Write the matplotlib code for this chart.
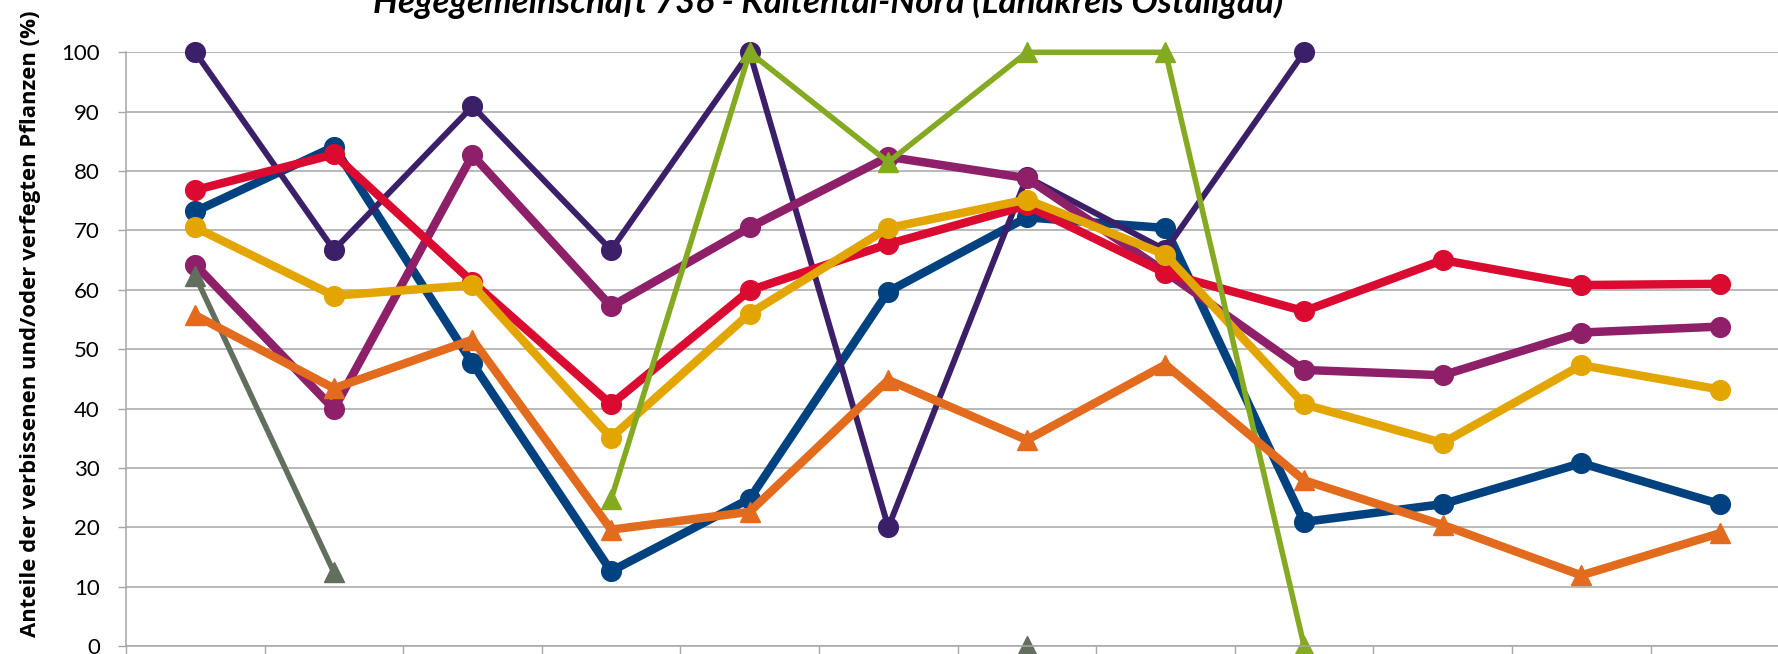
import numpy as np
import matplotlib
matplotlib.use("Agg")
import matplotlib.pyplot as plt
from matplotlib import font_manager

nan = np.nan

# ---- data -------------------------------------------------------------
n_cat = 12
title = "Hegegemeinschaft 736 - Kaltental-Nord (Landkreis Ostallgäu)"
ylabel = "Anteile der verbissenen und/oder verfegten Pflanzen (%)"
yticks = [0, 10, 20, 30, 40, 50, 60, 70, 80, 90, 100]

s_blue    = [73.2, 84.1, 47.6, 12.6, 24.8, 59.7, 72.2, 70.4, 20.9, 23.9, 30.8, 23.9]
s_purple  = [100, 66.7, 90.9, 66.7, 100, 20.0, 79.0, 66.7, 100, nan, nan, nan]
s_magenta = [64.2, 39.9, 82.7, 57.2, 70.5, 82.4, 78.8, 63.0, 46.5, 45.6, 52.8, 53.8]
s_red     = [76.8, 82.8, 61.3, 40.7, 59.9, 67.7, 74.2, 62.8, 56.4, 65.0, 60.8, 61.0]
s_yellow  = [70.5, 59.0, 60.8, 35.1, 56.0, 70.4, 75.2, 65.9, 40.7, 34.2, 47.3, 43.2]
s_green   = [nan, nan, nan, 24.7, 100, 81.5, 100, 100, 0, nan, nan, nan]
s_gray    = [62.3, 12.4, nan, nan, nan, nan, 0, nan, nan, nan, nan, nan]
s_orange  = [55.7, 43.4, 51.6, 19.6, 22.6, 44.8, 34.7, 47.4, 27.9, 20.4, 11.9, 19.0]

# ---- fonts -------------------------------------------------------------
def pick(cands):
    for c in cands:
        try:
            font_manager.findfont(font_manager.FontProperties(family=c),
                                  fallback_to_default=False)
            return c
        except Exception:
            pass
    return "DejaVu Sans"

f_title = pick(["Lato", "Open Sans", "DejaVu Sans"])
f_tick = pick(["Lato", "Liberation Sans", "DejaVu Sans"])
f_label = pick(["Open Sans", "Noto Sans", "DejaVu Sans"])

W, H = 1778, 654
DPI = 100
fig = plt.figure(figsize=(W / DPI, H / DPI), dpi=DPI)
fig.patch.set_facecolor("white")

# axes geometry in pixels
x0, cat_w = 126.0, 138.6
y0, y100 = 646.0, 52.3
ax = fig.add_axes([x0 / W, (H - y0) / H, n_cat * cat_w / W, (y0 - y100) / H])
ax.set_facecolor("none")

grid_c = "#A6A6A6"
ax.set_xlim(0, n_cat)
ax.set_ylim(0, 100)
ax.set_yticks(yticks)
ax.set_yticklabels([str(v) for v in yticks], fontsize=16, family=f_tick, color="black")
ax.set_xticks(np.arange(n_cat + 1))
ax.set_xticklabels([])
ax.tick_params(axis="y", direction="out", length=5.8, width=1.0, color=grid_c, pad=13)
ax.tick_params(axis="x", direction="out", length=5.8, width=1.0, color=grid_c)
ax.yaxis.grid(True, color=grid_c, lw=1.1)
ax.set_axisbelow(True)
for s in ["top", "right"]:
    ax.spines[s].set_visible(False)
for s in ["left", "bottom"]:
    ax.spines[s].set_color(grid_c)
    ax.spines[s].set_linewidth(1.1)

xc = np.arange(n_cat) + 0.5

series = [
    (s_blue,    "#00427F", "o", 6.1, 14.2),
    (s_purple,  "#3C1F69", "o", 4.3, 14.2),
    (s_magenta, "#8E1F69", "o", 6.1, 14.2),
    (s_red,     "#DA0A31", "o", 6.1, 14.2),
    (s_yellow,  "#E3A500", "o", 6.1, 14.2),
    (s_green,   "#84AA22", "^", 4.0, 14.5),
    (s_gray,    "#626F5E", "^", 4.0, 14.5),
    (s_orange,  "#E36B1E", "^", 6.1, 14.5),
]
for vals, col, mk, lw, ms in series:
    ax.plot(xc, vals, color=col, lw=lw, marker=mk, ms=ms, mfc=col, mec=col,
            solid_joinstyle="round", clip_on=False)

# ---- texts -------------------------------------------------------------
fig.canvas.draw()
r = fig.canvas.get_renderer()

t = fig.text(828 / W, 1 - 13.3 / H, title, ha="center", va="baseline",
             fontsize=20, fontweight="bold", fontstyle="italic", family=f_title)
wpx = t.get_window_extent(r).width
t.set_fontsize(20 * 910.0 / wpx)

yl = fig.text(30.3 / W, (H - 637) / H, ylabel, rotation=90, ha="center", va="bottom",
              fontsize=14.8, fontweight="bold", family=f_label)
hpx = yl.get_window_extent(r).height
yl.set_fontsize(14.8 * 625.0 / hpx)

fig.savefig("out.png", dpi=DPI, facecolor="white")
